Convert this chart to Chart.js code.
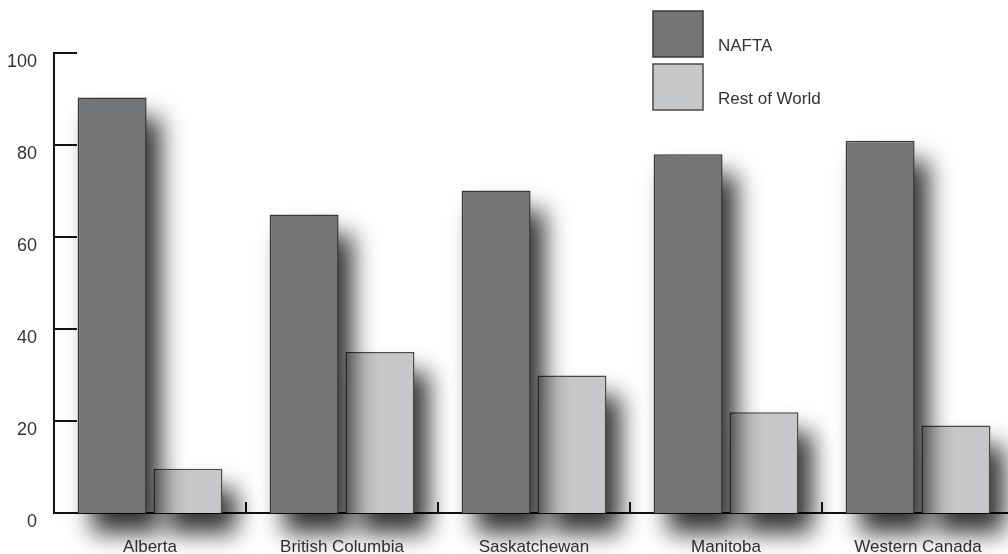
<!DOCTYPE html>
<html>
<head>
<meta charset="utf-8">
<script src="https://cdn.jsdelivr.net/npm/chart.js@4.4.0/dist/chart.umd.min.js"></script>
<style>
html, body { margin: 0; padding: 0; background: #fff; overflow: hidden; }
#wrap { width: 1020px; height: 554px; }
</style>
</head>
<body>
<div id="wrap"><canvas id="grafico" width="1020" height="554"></canvas></div>
<script>
// datos
const regiones = ['Alberta', 'British Columbia', 'Saskatchewan', 'Manitoba', 'Western Canada'];
const nafta = [90.3, 64.9, 70.1, 78.0, 80.9];
const restoMundo = [9.6, 35.0, 29.9, 21.9, 19.0];
const ticksY = [0, 20, 40, 60, 80, 100];
const nombresSeries = ['NAFTA', 'Rest of World'];

const fuente = "'Liberation Sans', Arial, sans-serif";

// sombra difusa detras de cada barra
const sombraBarras = {
    id: 'sombraBarras',
    beforeDatasetDraw(chart, args) {
        const ctx = chart.ctx;
        ctx.save();
        ctx.filter = 'blur(12px)';
        ctx.fillStyle = 'rgba(0,0,0,0.8)';
        args.meta.data.forEach(bar => {
            const w = bar.width;
            ctx.fillRect(bar.x - w / 2 + 14, bar.y + 20, w, bar.base - bar.y);
        });
        ctx.restore();
    }
};

// marcas hacia adentro en el eje y, separadores en el eje x, leyenda
const ejesYLeyenda = {
    id: 'ejesYLeyenda',
    afterDraw(chart) {
        const ctx = chart.ctx;
        const area = chart.chartArea;
        const y = chart.scales.y;
        const x = chart.scales.x;
        ctx.save();
        ctx.strokeStyle = '#111';
        ctx.lineWidth = 2;
        ctx.beginPath();
        ticksY.forEach(v => {
            const py = Math.round(y.getPixelForValue(v));
            ctx.moveTo(area.left, py);
            ctx.lineTo(area.left + 23, py);
        });
        for (let i = 0; i < regiones.length - 1; i++) {
            const px = Math.round((x.getPixelForValue(i) + x.getPixelForValue(i + 1)) / 2);
            ctx.moveTo(px, area.bottom);
            ctx.lineTo(px, area.bottom - 11);
        }
        ctx.stroke();

        // leyenda
        chart.data.datasets.forEach((ds, i) => {
            const top = 11 + i * 53;
            ctx.fillStyle = ds.backgroundColor;
            ctx.fillRect(653, top, 50, 46);
            ctx.strokeStyle = ds.borderColor;
            ctx.lineWidth = 1.5;
            ctx.strokeRect(653, top, 50, 46);
            ctx.fillStyle = '#333';
            ctx.font = '17px ' + fuente;
            ctx.textBaseline = 'alphabetic';
            ctx.fillText(ds.label, 718, top + 40);
        });
        ctx.restore();
    }
};

const ctx = document.getElementById('grafico').getContext('2d');
const grafico = new Chart(ctx, {
    type: 'bar',
    data: {
        labels: regiones,
        datasets: [
            {
                label: nombresSeries[0],
                data: nafta,
                backgroundColor: '#737476',
                borderColor: '#3a3a3a',
                borderWidth: 1.5,
                order: 0
            },
            {
                label: nombresSeries[1],
                data: restoMundo,
                backgroundColor: '#c6c7c9',
                borderColor: '#4a4a4a',
                borderWidth: 1.5,
                order: 1
            }
        ]
    },
    options: {
        responsive: false,
        animation: false,
        devicePixelRatio: 1,
        categoryPercentage: 0.79,
        barPercentage: 0.91,
        layout: { padding: { top: 53, right: 6, left: 0, bottom: 0 } },
        plugins: {
            legend: { display: false },
            tooltip: { enabled: false }
        },
        scales: {
            x: {
                grid: { display: false, drawTicks: false },
                border: { color: '#111', width: 2 },
                ticks: {
                    color: '#333',
                    padding: 24,
                    font: { family: fuente, size: 17 }
                },
                afterFit: s => { s.height = 41; }
            },
            y: {
                min: 0,
                max: 100,
                grid: { display: false, drawTicks: false },
                border: { color: '#111', width: 2 },
                afterBuildTicks: s => { s.ticks = ticksY.map(v => ({ value: v })); },
                ticks: {
                    color: '#333',
                    padding: 17,
                    labelOffset: 9,
                    font: { family: fuente, size: 18 }
                },
                afterFit: s => { s.width = 54; }
            }
        }
    },
    plugins: [sombraBarras, ejesYLeyenda]
});
</script>
</body>
</html>
